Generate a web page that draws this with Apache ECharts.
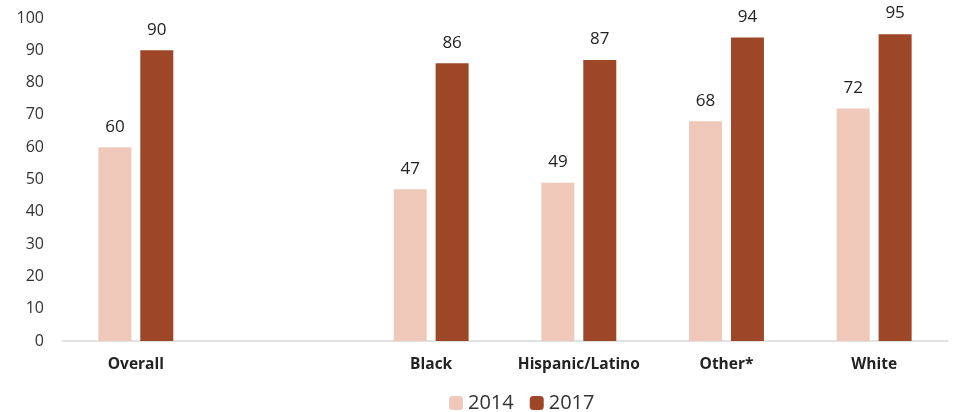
<!DOCTYPE html>
<html><head><meta charset="utf-8">
<script src="https://cdn.jsdelivr.net/npm/echarts@6/dist/echarts.min.js"></script>
<style>html,body{margin:0;padding:0;background:#fff}#c{width:954px;height:412px}</style>
</head><body><div id="c"></div>
<script>
const categories = ['Overall', '', 'Black', 'Hispanic/Latino', 'Other*', 'White'];
const values2014 = [60, null, 47, 49, 68, 72];
const values2017 = [90, null, 86, 87, 94, 95];
const yTicks = [0, 10, 20, 30, 40, 50, 60, 70, 80, 90, 100];

const font = '"Open Sans", "Noto Sans", sans-serif';
const chart = echarts.init(document.getElementById('c'));
const lbl = {show: true, position: 'top', distance: 12, fontSize: 17, color: '#222', fontFamily: font};
chart.setOption({
  animation: false,
  grid: {left: 62, right: 6, top: 18, bottom: 71},
  legend: {
    top: 388, left: 444, itemWidth: 14, itemHeight: 14, itemGap: 16,
    textStyle: {fontSize: 20, color: '#333', fontFamily: font},
    data: ['2014', '2017']
  },
  xAxis: {
    type: 'category', data: categories,
    axisLine: {lineStyle: {color: '#d9d9d9', width: 1.5}},
    axisTick: {show: false},
    axisLabel: {fontSize: 15.5, fontWeight: 'bold', color: '#222', margin: 16, fontFamily: font, interval: 0}
  },
  yAxis: {
    type: 'value', min: 0, max: 100, interval: 10,
    splitLine: {show: false}, axisLine: {show: false}, axisTick: {show: false},
    axisLabel: {fontSize: 16, color: '#333', margin: 18, fontFamily: font,
      formatter: v => yTicks.includes(v) ? String(v) : ''}
  },
  series: [
    {name: '2014', type: 'bar', data: values2014, barWidth: 33, barGap: '27%',
     itemStyle: {color: '#efc8ba'}, label: lbl},
    {name: '2017', type: 'bar', data: values2017, barWidth: 33, barGap: '27%',
     itemStyle: {color: '#9e4728'}, label: lbl}
  ]
});
</script></body></html>
